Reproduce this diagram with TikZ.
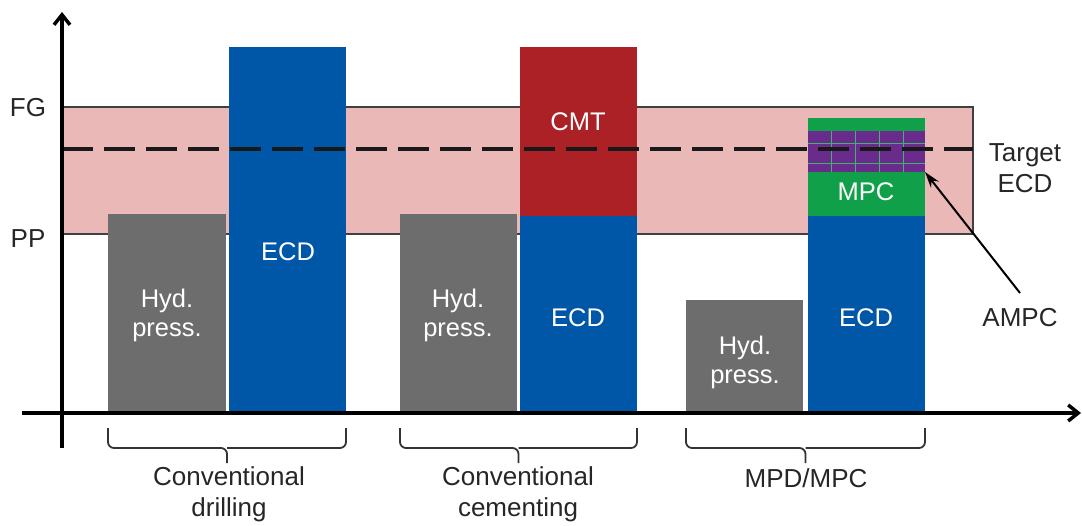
\documentclass[tikz,border=0pt]{standalone}
\usepackage{fontspec}
\setmainfont{Liberation Sans}
\usetikzlibrary{arrows.meta,positioning}
\definecolor{bargray}{HTML}{6D6D6D}
\definecolor{barblue}{HTML}{0057A8}
\definecolor{barred}{HTML}{AC2126}
\definecolor{bargreen}{HTML}{10A04A}
\definecolor{barpurple}{HTML}{6A2C8C}
\definecolor{band}{HTML}{EBB8B8}
\begin{document}
\begin{tikzpicture}[x=1pt,y=-1pt,
  bartext/.style={text=white,font=\fontsize{25.5}{29}\selectfont,align=center},
  lbl/.style={text=black!85,font=\fontsize{26}{31}\selectfont,align=center},
  brace/.style={draw=black!80,line width=1.8pt,rounded corners=6pt},
  axis/.style={line width=4.5pt,-{Straight Barb[length=10pt,width=16pt,line width=3.5pt]}}]
\useasboundingbox (0,0) rectangle (1082,525);
% band
\fill[band,draw=black!75,line width=1.5pt] (62,107) rectangle (973,234);
% bars
\fill[bargray] (108,214) rectangle (226,413);
\fill[barblue] (229,47) rectangle (346,413);
\fill[bargray] (400,214) rectangle (517,413);
\fill[barblue] (520,216) rectangle (637,413);
\fill[barred] (520,47) rectangle (637,216);
\fill[bargray] (686,300) rectangle (803,413);
\fill[barblue] (808,216) rectangle (925,413);
\fill[bargreen] (808,118) rectangle (925,216);
\fill[barpurple] (808,131) rectangle (925,172);
\foreach \x in {831,855,879,903} \draw[bargreen!80,line width=0.8pt] (\x,131) -- (\x,172);
\foreach \y in {143,163} \draw[bargreen!80,line width=0.8pt] (808,\y) -- (925,\y);
\coordinate (ampctip) at (925,172);
% dashed target line
\draw[black!90,line width=3.5pt,dash pattern=on 31pt off 11pt] (62,149) -- (973,149);
% bar texts
\node[bartext] (h1) at (167,315) {Hyd.\\press.};
\node[bartext] (e1) at (288,252) {ECD};
\node[bartext] (h2) at (458,315) {Hyd.\\press.};
\node[bartext] (e2) at (578,318) {ECD};
\node[bartext] (c2) at (578,122) {CMT};
\node[bartext] (h3) at (745,362) {Hyd.\\press.};
\node[bartext] (e3) at (866,318) {ECD};
\node[bartext] (m3) at (866,192) {MPC};
% axes
\coordinate (yo) at (62,448);
\coordinate (yt) at (62,12);
\coordinate (xo) at (22,413);
\coordinate (xt) at (1081,413);
\draw[axis] (yo) -- (yt);
\draw[axis] (xo) -- (xt);
% axis labels
\node[lbl] (fg) at (28,108) {FG};
\node[lbl] (pp) at (28,239) {PP};
\node[lbl] (tecd) at (1025,168) {Target\\ECD};
\node[lbl] (ampc) at (1020,318) {AMPC};
\coordinate (ampcs) at (1020,293);
\draw[line width=2pt,-{Stealth[length=16pt,width=10pt]}] (ampcs) -- (ampctip);
% braces
\foreach \a/\b in {108/346,400/637,686/925}{
  \draw[brace] (\a,428) -- (\a,448) -- ({(\a+\b)/2},448) -- ({(\a+\b)/2},463);
  \draw[brace] (\b,428) -- (\b,448) -- ({(\a+\b)/2},448);
}
\node[lbl] (g1) at (229,494) {Conventional\\drilling};
\node[lbl] (g2) at (518,494) {Conventional\\cementing};
\node[lbl] (g3) at (806,478) {MPD/MPC};
\end{tikzpicture}
\end{document}
